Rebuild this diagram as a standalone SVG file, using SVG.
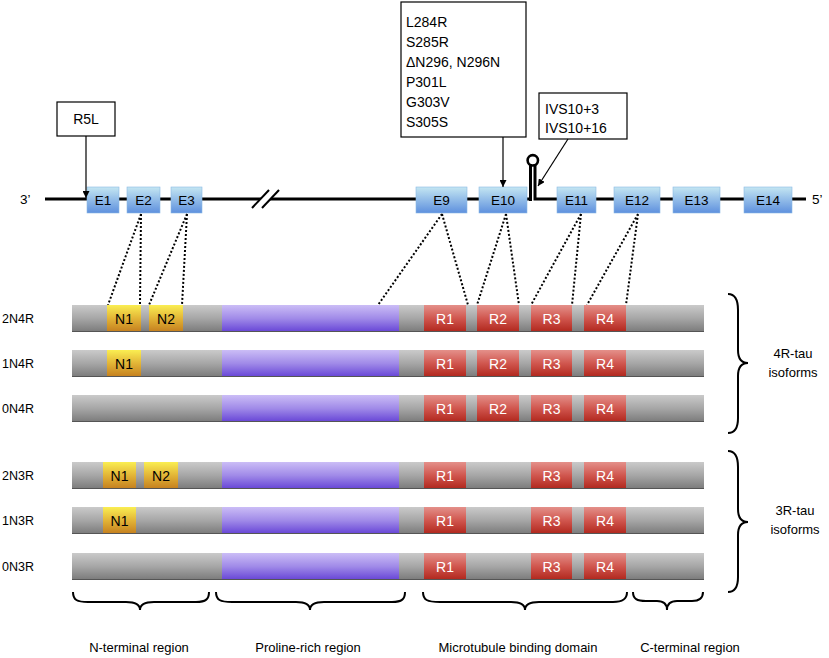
<svg xmlns="http://www.w3.org/2000/svg" width="829" height="658" viewBox="0 0 829 658">
<defs>
<linearGradient id="gEx" x1="0" y1="0" x2="0" y2="1"><stop offset="0" stop-color="#c4e6f2"/><stop offset="1" stop-color="#5e90de"/></linearGradient>
<linearGradient id="gGray" x1="0" y1="0" x2="0" y2="1"><stop offset="0" stop-color="#cacaca"/><stop offset="0.5" stop-color="#a6a6a6"/><stop offset="1" stop-color="#7a7a7a"/></linearGradient>
<linearGradient id="gPro" x1="0" y1="0" x2="0" y2="1"><stop offset="0" stop-color="#cbbdf6"/><stop offset="0.5" stop-color="#a08ae8"/><stop offset="1" stop-color="#6644d6"/></linearGradient>
<linearGradient id="gN" x1="0" y1="0" x2="0" y2="1"><stop offset="0" stop-color="#faee52"/><stop offset="0.5" stop-color="#e2b436"/><stop offset="1" stop-color="#c47e1e"/></linearGradient>
<linearGradient id="gR" x1="0" y1="0" x2="0" y2="1"><stop offset="0" stop-color="#e4908a"/><stop offset="0.5" stop-color="#d0564e"/><stop offset="1" stop-color="#b0261c"/></linearGradient>
<marker id="arr" viewBox="0 0 10 10" refX="10" refY="5" markerWidth="7" markerHeight="7" orient="auto" markerUnits="userSpaceOnUse"><path d="M0,0 L10,5 L0,10 z" fill="#000"/></marker>
</defs>
<style>
text{font-family:"Liberation Sans",Arial,sans-serif;fill:#000}
.lab{font-size:12.5px}
.ex{font-size:13.5px;text-anchor:middle}
.mut{font-size:14px}
.seg{font-size:14px;text-anchor:middle}
.rt{fill:#fff}
.reg{font-size:13px;text-anchor:middle}
.gene{stroke:#000;stroke-width:3;fill:none}
.dot{stroke:#000;stroke-width:2;stroke-dasharray:2 2;fill:none}
.box{fill:#fff;stroke:#000;stroke-width:1.2}
.ptr{stroke:#000;stroke-width:1.2;fill:none;marker-end:url(#arr)}
.brace{stroke:#000;stroke-width:2;fill:none}
.exon{fill:url(#gEx);stroke:#8ab8e4;stroke-width:0.6}
.bar{fill:url(#gGray)}
.pro{fill:url(#gPro)}
.nb{fill:url(#gN)}
.rb{fill:url(#gR)}
.bl{stroke:#555;stroke-width:1.2}
</style>
<rect width="829" height="658" fill="#fff"/>

<g id="gene-line">
<line class="gene" x1="45" y1="199" x2="530" y2="199"/>
<path class="gene" d="M530.5,201 L530.5,164 M535,164 L535,199 L806,199" stroke-width="2.5"/>
<circle cx="532.8" cy="160.3" r="5.2" fill="none" stroke="#000" stroke-width="2.6"/>
<line x1="45" y1="199" x2="806" y2="199" stroke="none"/>
<polygon points="252,207 269,190 279,190 262,207" fill="#fff"/>
<line x1="252" y1="208" x2="269" y2="190" stroke="#000" stroke-width="2"/>
<line x1="262" y1="208" x2="279" y2="190" stroke="#000" stroke-width="2"/>
<text x="20" y="204" class="ex" style="text-anchor:start">3’</text>
<text x="812" y="204" class="ex" style="text-anchor:start">5’</text>
</g>

<g id="exons">
<g id="E1"><rect class="exon" x="87" y="187" width="32" height="26"/><text class="ex" x="103" y="205">E1</text></g>
<g id="E2"><rect class="exon" x="127" y="187" width="33" height="26"/><text class="ex" x="143.5" y="205">E2</text></g>
<g id="E3"><rect class="exon" x="171" y="187" width="31" height="26"/><text class="ex" x="186.5" y="205">E3</text></g>
<g id="E9"><rect class="exon" x="416" y="187" width="51" height="26"/><text class="ex" x="441.5" y="205">E9</text></g>
<g id="E10"><rect class="exon" x="479" y="187" width="48" height="26"/><text class="ex" x="503" y="205">E10</text></g>
<g id="E11"><rect class="exon" x="557" y="187" width="39" height="26"/><text class="ex" x="576.5" y="205">E11</text></g>
<g id="E12"><rect class="exon" x="614" y="187" width="46" height="26"/><text class="ex" x="637" y="205">E12</text></g>
<g id="E13"><rect class="exon" x="673" y="187" width="47" height="26"/><text class="ex" x="696.5" y="205">E13</text></g>
<g id="E14"><rect class="exon" x="744" y="187" width="48" height="26"/><text class="ex" x="768" y="205">E14</text></g>
</g>

<g id="mut-R5L"><rect class="box" x="57" y="102" width="58" height="34"/><text class="mut" x="86" y="124" text-anchor="middle">R5L</text></g>
<g id="mut-E10"><rect class="box" x="401" y="2" width="125" height="135"/>
<text class="mut" x="406" y="27">L284R</text>
<text class="mut" x="406" y="47">S285R</text>
<text class="mut" x="406" y="67">ΔN296, N296N</text>
<text class="mut" x="406" y="87">P301L</text>
<text class="mut" x="406" y="107">G303V</text>
<text class="mut" x="406" y="127">S305S</text>
</g>
<g id="mut-IVS"><rect class="box" x="539" y="93" width="88" height="46"/>
<text class="mut" x="545" y="114">IVS10+3</text>
<text class="mut" x="545" y="133">IVS10+16</text>
</g>

<g id="connectors">
<line class="ptr" x1="86" y1="136" x2="86" y2="198"/>
<line class="ptr" x1="503" y1="137" x2="503" y2="187"/>
<line class="ptr" x1="568" y1="139" x2="538" y2="186"/>
<path class="dot" d="M141,214 L108,305 M141,214 L140,305 M187,214 L149,305 M187,214 L182,305 M442,214 L378,305 M442,214 L468,305 M506,214 L477,305 M506,214 L519,305 M581,214 L531,305 M581,214 L572,305 M638,214 L587,305 M638,214 L626,305"/>
</g>

<g id="row-2N4R">
<text class="lab" x="2" y="323">2N4R</text>
<rect class="bar" x="72" y="305" width="632" height="27"/>
<rect class="nb" x="107" y="305" width="34" height="27"/><rect class="nb" x="149" y="305" width="34" height="27"/>
<rect class="pro" x="222" y="305" width="177" height="27"/>
<rect class="rb" x="424" y="305" width="42" height="27"/><rect class="rb" x="477" y="305" width="42" height="27"/><rect class="rb" x="531" y="305" width="41" height="27"/><rect class="rb" x="584" y="305" width="42" height="27"/>
<line class="bl" x1="72" y1="331.5" x2="704" y2="331.5"/>
<text class="seg" x="124" y="324">N1</text><text class="seg" x="166" y="324">N2</text>
<text class="seg rt" x="445" y="324">R1</text><text class="seg rt" x="498" y="324">R2</text><text class="seg rt" x="551.5" y="324">R3</text><text class="seg rt" x="605" y="324">R4</text>
</g>

<g id="row-1N4R">
<text class="lab" x="2" y="368">1N4R</text>
<rect class="bar" x="72" y="350" width="632" height="27"/>
<rect class="nb" x="107" y="350" width="34" height="27"/>
<rect class="pro" x="222" y="350" width="177" height="27"/>
<rect class="rb" x="424" y="350" width="42" height="27"/><rect class="rb" x="477" y="350" width="42" height="27"/><rect class="rb" x="531" y="350" width="41" height="27"/><rect class="rb" x="584" y="350" width="42" height="27"/>
<line class="bl" x1="72" y1="376.5" x2="704" y2="376.5"/>
<text class="seg" x="124" y="369">N1</text>
<text class="seg rt" x="445" y="369">R1</text><text class="seg rt" x="498" y="369">R2</text><text class="seg rt" x="551.5" y="369">R3</text><text class="seg rt" x="605" y="369">R4</text>
</g>

<g id="row-0N4R">
<text class="lab" x="2" y="413">0N4R</text>
<rect class="bar" x="72" y="395" width="632" height="27"/>
<rect class="pro" x="222" y="395" width="177" height="27"/>
<rect class="rb" x="424" y="395" width="42" height="27"/><rect class="rb" x="477" y="395" width="42" height="27"/><rect class="rb" x="531" y="395" width="41" height="27"/><rect class="rb" x="584" y="395" width="42" height="27"/>
<line class="bl" x1="72" y1="421.5" x2="704" y2="421.5"/>
<text class="seg rt" x="445" y="414">R1</text><text class="seg rt" x="498" y="414">R2</text><text class="seg rt" x="551.5" y="414">R3</text><text class="seg rt" x="605" y="414">R4</text>
</g>

<g id="row-2N3R">
<text class="lab" x="2" y="480">2N3R</text>
<rect class="bar" x="72" y="462" width="632" height="27"/>
<rect class="nb" x="103" y="462" width="33" height="27"/><rect class="nb" x="144" y="462" width="34" height="27"/>
<rect class="pro" x="222" y="462" width="177" height="27"/>
<rect class="rb" x="424" y="462" width="42" height="27"/><rect class="rb" x="531" y="462" width="41" height="27"/><rect class="rb" x="584" y="462" width="42" height="27"/>
<line class="bl" x1="72" y1="488.5" x2="704" y2="488.5"/>
<text class="seg" x="119.5" y="481">N1</text><text class="seg" x="161" y="481">N2</text>
<text class="seg rt" x="445" y="481">R1</text><text class="seg rt" x="551.5" y="481">R3</text><text class="seg rt" x="605" y="481">R4</text>
</g>

<g id="row-1N3R">
<text class="lab" x="2" y="525">1N3R</text>
<rect class="bar" x="72" y="507" width="632" height="27"/>
<rect class="nb" x="103" y="507" width="33" height="27"/>
<rect class="pro" x="222" y="507" width="177" height="27"/>
<rect class="rb" x="424" y="507" width="42" height="27"/><rect class="rb" x="531" y="507" width="41" height="27"/><rect class="rb" x="584" y="507" width="42" height="27"/>
<line class="bl" x1="72" y1="533.5" x2="704" y2="533.5"/>
<text class="seg" x="119.5" y="526">N1</text>
<text class="seg rt" x="445" y="526">R1</text><text class="seg rt" x="551.5" y="526">R3</text><text class="seg rt" x="605" y="526">R4</text>
</g>

<g id="row-0N3R">
<text class="lab" x="2" y="571">0N3R</text>
<rect class="bar" x="72" y="553" width="632" height="27"/>
<rect class="pro" x="222" y="553" width="177" height="27"/>
<rect class="rb" x="424" y="553" width="42" height="27"/><rect class="rb" x="531" y="553" width="41" height="27"/><rect class="rb" x="584" y="553" width="42" height="27"/>
<line class="bl" x1="72" y1="579.5" x2="704" y2="579.5"/>
<text class="seg rt" x="445" y="572">R1</text><text class="seg rt" x="551.5" y="572">R3</text><text class="seg rt" x="605" y="572">R4</text>
</g>

<g id="brace-4R">
<path class="brace" d="M728,294 C735,294 738,299 738,310 L738,350 C738,358 741,363 748,363 C741,363 738,368 738,376 L738,418 C738,428 735,433 728,433"/>
<text class="reg" x="793" y="358">4R-tau</text><text class="reg" x="793" y="377">isoforms</text>
</g>
<g id="brace-3R">
<path class="brace" d="M728,451 C735,451 738,456 738,467 L738,509 C738,517 741,522 748,522 C741,522 738,527 738,535 L738,577 C738,587 735,592 728,592"/>
<text class="reg" x="795" y="515">3R-tau</text><text class="reg" x="795" y="534">isoforms</text>
</g>

<g id="region-N">
<path class="brace" d="M73,592 C73,600 77,602 88,602 L126,602 C135,602 140,605 140,610 C140,605 145,602 154,602 L196,602 C206,602 209,599 209,592"/>
<text class="reg" x="139" y="652">N-terminal region</text>
</g>
<g id="region-P">
<path class="brace" d="M216,592 C216,600 220,602 232,602 L296,602 C305,602 310,605 310,610 C310,605 315,602 324,602 L392,602 C402,602 405,599 405,592"/>
<text class="reg" x="308" y="652">Proline-rich region</text>
</g>
<g id="region-MBD">
<path class="brace" d="M423,592 C423,600 427,602 440,602 L511,602 C520,602 525,605 525,610 C525,605 530,602 539,602 L613,602 C623,602 627,599 627,592"/>
<text class="reg" x="518" y="652">Microtubule binding domain</text>
</g>
<g id="region-C">
<path class="brace" d="M633,592 C633,599 637,601 646,601 L657,601 C664,601 667,604 667,610 C667,604 670,601 677,601 L692,601 C700,601 703,598 703,592"/>
<text class="reg" x="690" y="652">C-terminal region</text>
</g>
</svg>
